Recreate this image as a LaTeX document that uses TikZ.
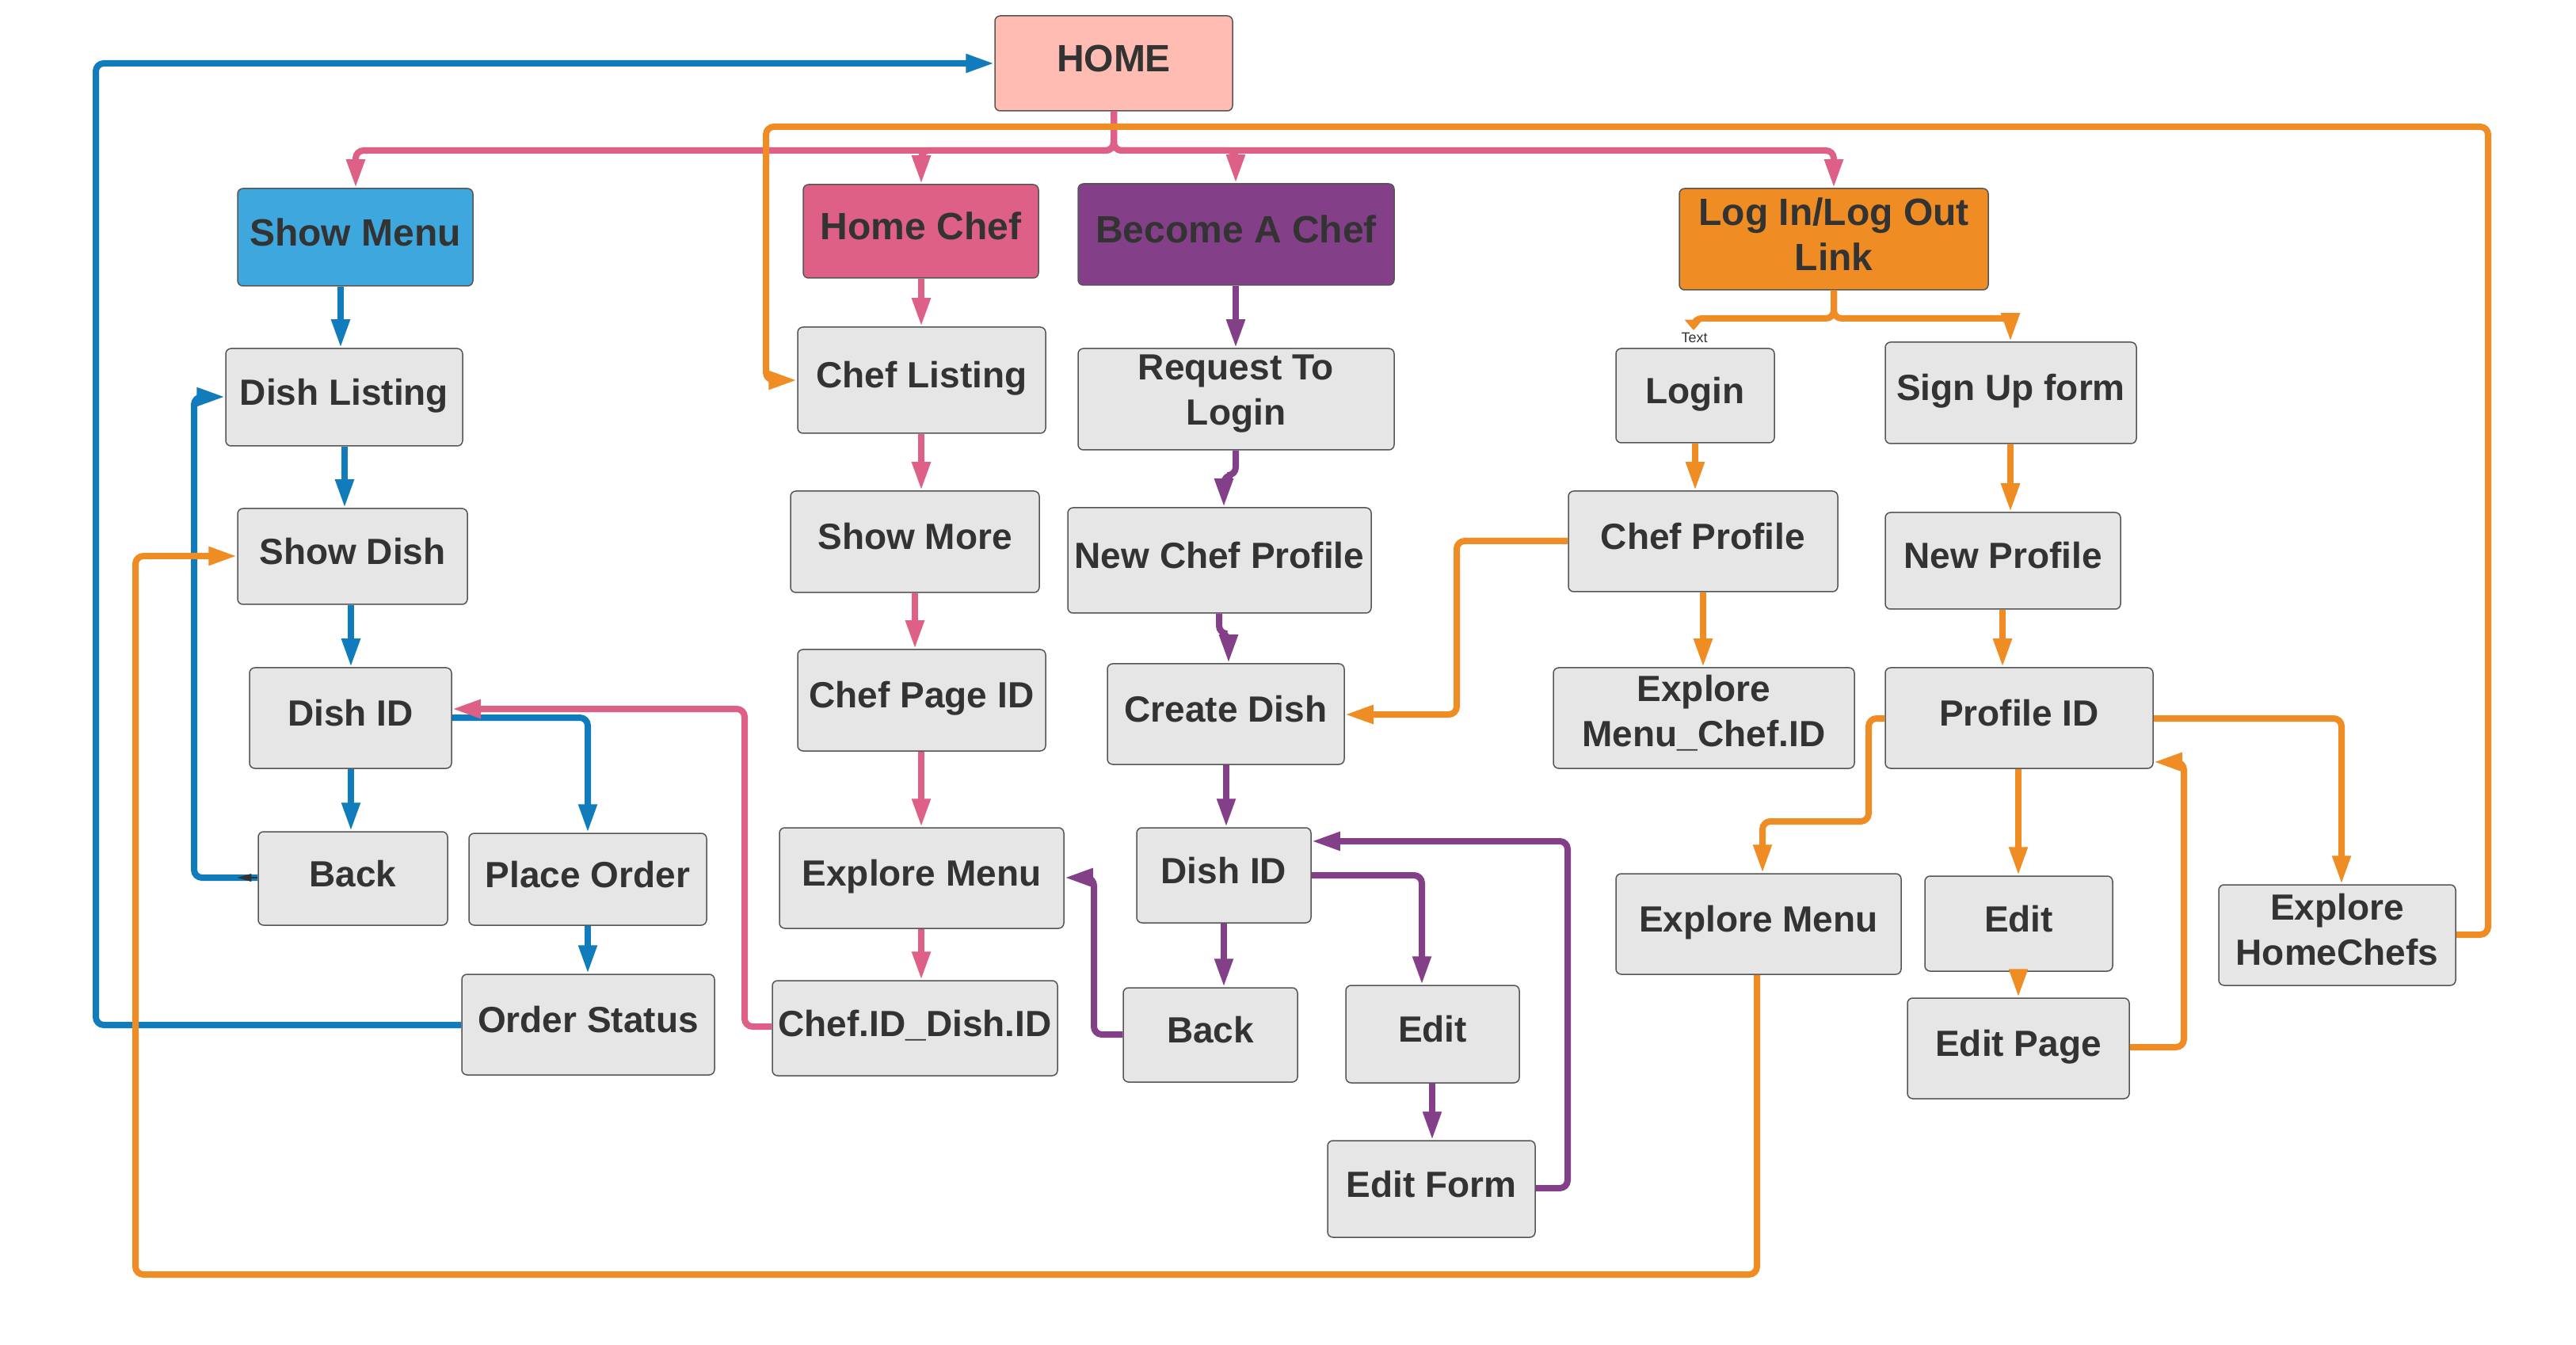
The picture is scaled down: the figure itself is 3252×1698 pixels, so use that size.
\documentclass[tikz,border=0pt]{standalone}
\usepackage{fontspec}
\setmainfont{Liberation Sans}
\usetikzlibrary{arrows.meta}
\definecolor{cBlue}{RGB}{17,124,187}
\definecolor{cBlueFill}{RGB}{61,167,222}
\definecolor{cPink}{RGB}{222,96,134}
\definecolor{cPurple}{RGB}{131,64,136}
\definecolor{cOrange}{RGB}{239,141,36}
\definecolor{cHome}{RGB}{255,188,179}
\definecolor{cBox}{RGB}{230,230,230}
\definecolor{cText}{RGB}{51,51,51}
\definecolor{cBorder}{RGB}{85,85,85}
\tikzset{
  box/.style={draw=cBorder, line width=0.45pt, fill=cBox, rounded corners=2pt,
    inner sep=0pt},
  boxtext/.style={inner sep=0pt, align=center, text=cText, yshift=2pt,
    font=\fontsize{13.8pt}{17pt}\selectfont\bfseries},
  boxtextone/.style={boxtext, text depth=0pt},
  hdr/.style={font=\fontsize{14.4pt}{17pt}\selectfont\bfseries},
  conn/.style={line width=2.4pt, rounded corners=3pt,
    -{Triangle[length=10.8pt,width=6.6pt]}},
  bl/.style={conn, color=cBlue},
  pk/.style={conn, color=cPink},
  pu/.style={conn, color=cPurple},
  og/.style={conn, color=cOrange},
  smalltxt/.style={text=cText, font=\fontsize{5.4pt}{6pt}\selectfont, inner sep=0pt}
}
% #1 box options, #2 text style, #3 name, #4-#7 corners (x1,y1,x2,y2), #8 text
\newcommand\bxA[8]{\node[box,#1,minimum width={(#6-#4)*0.3pt},minimum height={(#7-#5)*0.3pt}] (#3) at ({(#4+#6)/2},{(#5+#7)/2}) {};
  \node[#2] (#3-t) at (#3.center) {#8};}
\newcommand\bx[7][]{\bxA{#1}{boxtextone}{#2}{#3}{#4}{#5}{#6}{#7}}
\newcommand\mbx[7][]{\bxA{#1}{boxtext}{#2}{#3}{#4}{#5}{#6}{#7}}
\newcommand\hbx[7][]{\bxA{#1}{boxtextone,hdr}{#2}{#3}{#4}{#5}{#6}{#7}}
\newcommand\hmbx[7][]{\bxA{#1}{boxtext,hdr}{#2}{#3}{#4}{#5}{#6}{#7}}
\begin{document}
\begin{tikzpicture}[x=0.3pt,y=-0.3pt]
\useasboundingbox[fill=white] (0,0) rectangle (3252,1698);
% ---- boxes
\hbx[fill=cHome]{HOME}{1256}{20}{1556}{140}{HOME}
\hbx[fill=cBlueFill]{ShowMenu}{300}{238}{597}{361}{Show Menu}
\hbx[fill=cPink]{HomeChef}{1014}{233}{1311}{351}{Home Chef}
\hbx[fill=cPurple]{BecomeChef}{1361}{232}{1760}{360}{Become A Chef}
\hmbx[fill=cOrange]{LogIn}{2120}{238}{2510}{366}{Log In/Log Out\\Link}
\bx{DishListing}{285}{440}{584}{563}{Dish Listing}
\bx{ChefListing}{1007}{413}{1320}{547}{Chef Listing}
\mbx{RequestLogin}{1361}{440}{1760}{568}{Request To\\Login}
\bx{Login}{2040}{440}{2240}{559}{Login}
\bx{SignUp}{2380}{432}{2697}{560}{Sign Up form}
\bx{ShowDish}{300}{642}{590}{763}{Show Dish}
\bx{ShowMore}{998}{620}{1312}{748}{Show More}
\bx{NewChefProfile}{1348}{641}{1731}{774}{New Chef Profile}
\bx{ChefProfile}{1980}{620}{2320}{747}{Chef Profile}
\bx{NewProfile}{2380}{647}{2677}{769}{New Profile}
\bx{DishIDL}{315}{843}{570}{970}{Dish ID}
\bx{ChefPageID}{1007}{820}{1320}{948}{Chef Page ID}
\bx{CreateDish}{1398}{838}{1697}{965}{Create Dish}
\mbx{ExploreChefID}{1961}{843}{2341}{970}{Explore\\Menu\_Chef.ID}
\bx{ProfileID}{2380}{843}{2718}{970}{Profile ID}
\bx{BackL}{326}{1050}{565}{1168}{Back}
\bx{PlaceOrder}{592}{1052}{892}{1168}{Place Order}
\bx{ExploreMenuM}{984}{1045}{1343}{1172}{Explore Menu}
\bx{DishIDM}{1435}{1045}{1655}{1165}{Dish ID}
\bx{ExploreMenuR}{2040}{1103}{2400}{1230}{Explore Menu}
\bx{EditR}{2430}{1106}{2667}{1226}{Edit}
\mbx{ExploreHomeChefs}{2801}{1117}{3100}{1244}{Explore\\HomeChefs}
\bx{OrderStatus}{583}{1230}{902}{1357}{Order Status}
\bx{ChefIDDishID}{975}{1238}{1335}{1358}{Chef.ID\_Dish.ID}
\bx{BackM}{1418}{1247}{1638}{1366}{Back}
\bx{EditM}{1699}{1244}{1918}{1367}{Edit}
\bx{EditPage}{2408}{1260}{2688}{1387}{Edit Page}
\bx{EditForm}{1676}{1440}{1938}{1562}{Edit Form}
\node[smalltxt] (TextLbl) at (2139,426) {Text};
\coordinate (LoginTip) at (2138,417);
% ---- blue
\draw[bl] (ShowMenu.south -| 430,0) -- (DishListing.north -| 430,0);
\draw[bl] (DishListing.south -| 435,0) -- (ShowDish.north -| 435,0);
\draw[bl] (ShowDish.south -| 443,0) -- (DishIDL.north -| 443,0);
\draw[bl] (DishIDL.south -| 443,0) -- (BackL.north -| 443,0);
\draw[bl] (DishIDL.east |- 0,906) -- (742,906) -- (PlaceOrder.north -| 742,0);
\draw[bl] (PlaceOrder.south -| 742,0) -- (OrderStatus.north -| 742,0);
\draw[bl] (BackL.west |- 0,1108) -- (245,1108) -- (245,501) -- (DishListing.west |- 0,501);
\draw[bl] (OrderStatus.west |- 0,1294) -- (121,1294) -- (121,80) -- (HOME.west |- 0,80);
\coordinate (BackTick) at (BackL.west |- 0,1108);
\fill[cText] (BackTick) ++(-26,0) -- ++(18,-5) -- ++(0,10) -- cycle;
\draw[cText, line width=0.5pt] (BackTick) -- ++(-10,0);
% ---- pink
\draw[pk] (HOME.south -| 1406,0) -- (1406,190) -- (449,190) -- (ShowMenu.north -| 449,0);
\draw[pk] (HOME.south -| 1406,0) -- (1406,190) -- (1163,190) -- (HomeChef.north -| 1163,0);
\draw[pk] (HOME.south -| 1406,0) -- (1406,190) -- (1560,190) -- (BecomeChef.north -| 1560,0);
\draw[pk] (HOME.south -| 1406,0) -- (1406,190) -- (2315,190) -- (LogIn.north -| 2315,0);
\draw[pk] (HomeChef.south -| 1163,0) -- (ChefListing.north -| 1163,0);
\draw[pk] (ChefListing.south -| 1163,0) -- (ShowMore.north -| 1163,0);
\draw[pk] (ShowMore.south -| 1155,0) -- (ChefPageID.north -| 1155,0);
\draw[pk] (ChefPageID.south -| 1163,0) -- (ExploreMenuM.north -| 1163,0);
\draw[pk] (ExploreMenuM.south -| 1163,0) -- (ChefIDDishID.north -| 1163,0);
\draw[pk] (ChefIDDishID.west |- 0,1296) -- (940,1296) -- (940,895) -- (DishIDL.east |- 0,895);
% ---- purple
\draw[pu] (BecomeChef.south -| 1560,0) -- (RequestLogin.north -| 1560,0);
\draw[pu] (RequestLogin.south -| 1560,0) -- (1560,600) -- (1545,600) -- (NewChefProfile.north -| 1545,0);
\draw[pu] (NewChefProfile.south -| 1539,0) -- (1539,800) -- (1551,800) -- (CreateDish.north -| 1551,0);
\draw[pu] (CreateDish.south -| 1548,0) -- (DishIDM.north -| 1548,0);
\draw[pu] (DishIDM.south -| 1545,0) -- (BackM.north -| 1545,0);
\draw[pu] (DishIDM.east |- 0,1105) -- (1795,1105) -- (EditM.north -| 1795,0);
\draw[pu] (EditM.south -| 1808,0) -- (EditForm.north -| 1808,0);
\draw[pu] (EditForm.east |- 0,1500) -- (1979,1500) -- (1979,1062) -- (DishIDM.east |- 0,1062);
\draw[pu] (BackM.west |- 0,1306) -- (1381,1306) -- (1381,1108) -- (ExploreMenuM.east |- 0,1108);
% ---- orange
\draw[og] (ExploreHomeChefs.east |- 0,1180) -- (3141,1180) -- (3141,160) -- (967,160) -- (967,480) -- (ChefListing.west |- 0,480);
\draw[og, -{Triangle[length=4pt,width=6.6pt]}] (LogIn.south -| 2315,0) -- (2315,402) -- (2138,402) -- (LoginTip);
\draw[og] (LogIn.south -| 2315,0) -- (2315,402) -- (2538,402) -- (SignUp.north -| 2538,0);
\draw[og] (Login.south -| 2140,0) -- (ChefProfile.north -| 2140,0);
\draw[og] (ChefProfile.west |- 0,683) -- (1839,683) -- (1839,902) -- (CreateDish.east |- 0,902);
\draw[og] (ChefProfile.south -| 2150,0) -- (ExploreChefID.north -| 2150,0);
\draw[og] (SignUp.south -| 2538,0) -- (NewProfile.north -| 2538,0);
\draw[og] (NewProfile.south -| 2528,0) -- (ProfileID.north -| 2528,0);
\draw[og] (ProfileID.west |- 0,907) -- (2359,907) -- (2359,1037) -- (2225,1037) -- (ExploreMenuR.north -| 2225,0);
\draw[og] (ProfileID.south -| 2548,0) -- (EditR.north -| 2548,0);
\draw[og] (EditR.south -| 2548,0) -- (EditPage.north -| 2548,0);
\draw[og] (EditPage.east |- 0,1322) -- (2757,1322) -- (2757,962) -- (ProfileID.east |- 0,962);
\draw[og] (ProfileID.east |- 0,907) -- (2956,907) -- (ExploreHomeChefs.north -| 2956,0);
\draw[og] (ExploreMenuR.south -| 2218,0) -- (2218,1609) -- (171,1609) -- (171,702) -- (ShowDish.west |- 0,702);
\end{tikzpicture}
\end{document}
